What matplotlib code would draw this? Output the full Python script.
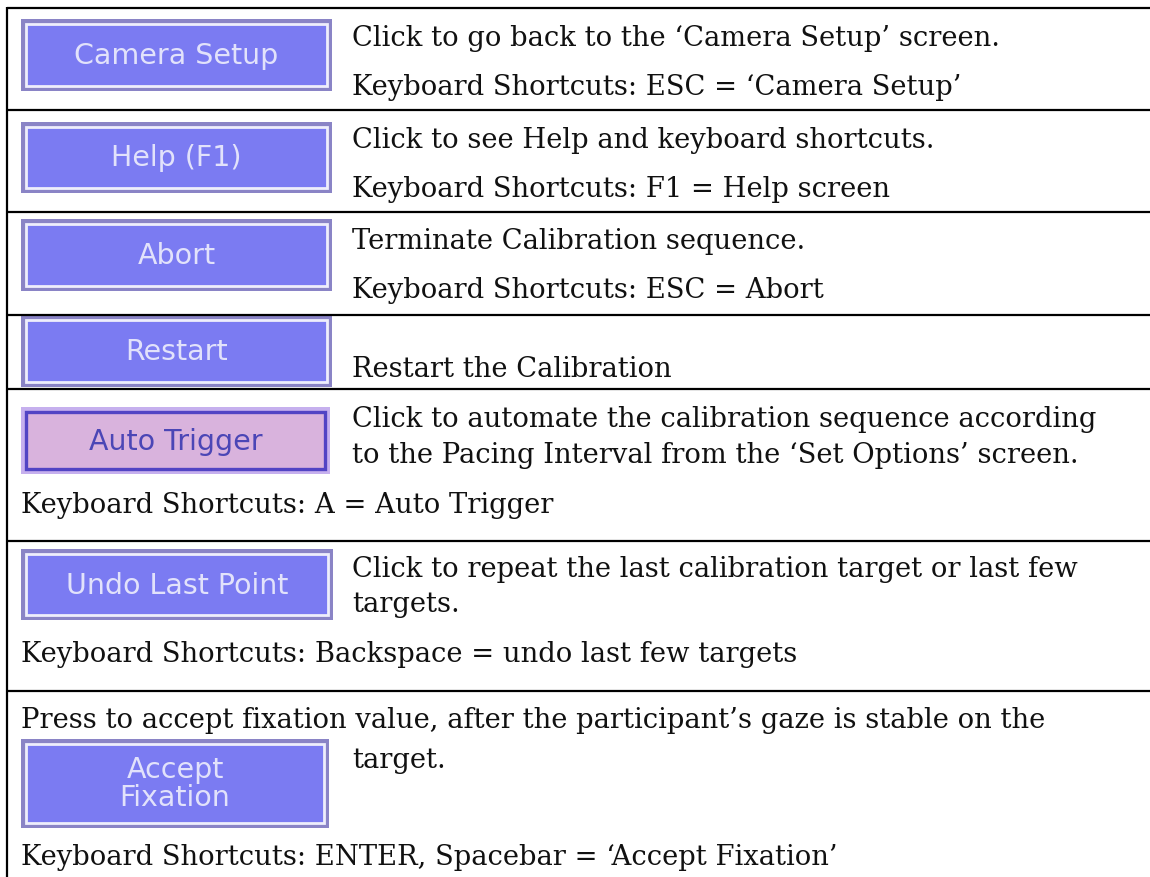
import matplotlib
matplotlib.use("Agg")
import matplotlib.pyplot as plt
from matplotlib.patches import Rectangle

# ---- content ----
button_labels = ["Camera Setup", "Help (F1)", "Abort", "Restart",
                 "Auto Trigger", "Undo Last Point", "Accept\nFixation"]
button_active = [False, False, False, False, True, False, False]

descriptions = [
    ["Click to go back to the \u2018Camera Setup\u2019 screen."],
    ["Click to see Help and keyboard shortcuts."],
    ["Terminate Calibration sequence."],
    ["Restart the Calibration"],
    ["Click to automate the calibration sequence according",
     "to the Pacing Interval from the \u2018Set Options\u2019 screen."],
    ["Click to repeat the last calibration target or last few",
     "targets."],
    ["target."],
]
lead_text = ["", "", "", "", "", "",
             "Press to accept fixation value, after the participant\u2019s gaze is stable on the"]
shortcuts = [
    "Keyboard Shortcuts: ESC = \u2018Camera Setup\u2019",
    "Keyboard Shortcuts: F1 = Help screen",
    "Keyboard Shortcuts: ESC = Abort",
    "",
    "Keyboard Shortcuts: A = Auto Trigger",
    "Keyboard Shortcuts: Backspace = undo last few targets",
    "Keyboard Shortcuts: ENTER, Spacebar = \u2018Accept Fixation\u2019",
]
shortcut_in_right_col = [True, True, True, False, False, False, False]

# ---- layout (pixel coordinates) ----
W, H = 1150, 877
row_edges = [8, 110, 212, 315, 389, 541, 691]
btn_y = [(19, 91), (122, 193), (219, 291), (315, 387), (407, 474), (549, 620), (739, 828)]
btn_x = [(21, 332), (21, 332), (21, 332), (21, 332), (21, 330), (21, 333), (21, 329)]
desc_base = [[46], [148], [249], [377], [427, 463], [577, 612], [768]]
lead_base = [None] * 6 + [728]
short_base = [95, 197, 298, None, 513, 662, 865]

fig = plt.figure(figsize=(W / 100, H / 100), dpi=100)
ax = fig.add_axes([0, 0, 1, 1])
ax.set_xlim(0, W)
ax.set_ylim(H, 0)
ax.axis("off")

# table lines
lw = 1.6
ax.plot([7, 7], [7, H], color="black", lw=lw, solid_capstyle="butt")
for y in row_edges:
    ax.plot([7, W], [y, y], color="black", lw=lw, solid_capstyle="butt")

serif = "DejaVu Serif"
fs = 19.7
TXT_R = 352
TXT_L = 21

for i, label in enumerate(button_labels):
    x0, x1 = btn_x[i]
    y0, y1 = btn_y[i]
    if button_active[i]:
        outer, inner, edge, tcol = "#c6b0ee", "#d9b3dd", "#5244c4", "#4b46b6"
        elw = 2.4
    else:
        outer, inner, edge, tcol = "#8a84c6", "#7b7bf2", "#eeeefc", "#e2e2fb"
        elw = 2.0
    ax.add_patch(Rectangle((x0, y0), x1 - x0, y1 - y0, facecolor=outer,
                           edgecolor="none"))
    ax.add_patch(Rectangle((x0 + 5, y0 + 5), x1 - x0 - 10, y1 - y0 - 10,
                           facecolor=inner, edgecolor=edge, lw=elw))
    ax.text((x0 + x1) / 2, (y0 + y1) / 2 + 1, label, ha="center", va="center",
            color=tcol, fontsize=20.5, family="DejaVu Sans", linespacing=1.0)

    for line, yb in zip(descriptions[i], desc_base[i]):
        ax.text(TXT_R, yb, line, ha="left", va="baseline", family=serif,
                fontsize=fs, color="#111111")
    if lead_text[i]:
        ax.text(TXT_L, lead_base[i], lead_text[i], ha="left", va="baseline",
                family=serif, fontsize=fs, color="#111111")
    if shortcuts[i]:
        xs = TXT_R if shortcut_in_right_col[i] else TXT_L
        ax.text(xs, short_base[i], shortcuts[i], ha="left", va="baseline",
                family=serif, fontsize=fs, color="#111111")

fig.savefig("out.png", dpi=100, facecolor="white")
